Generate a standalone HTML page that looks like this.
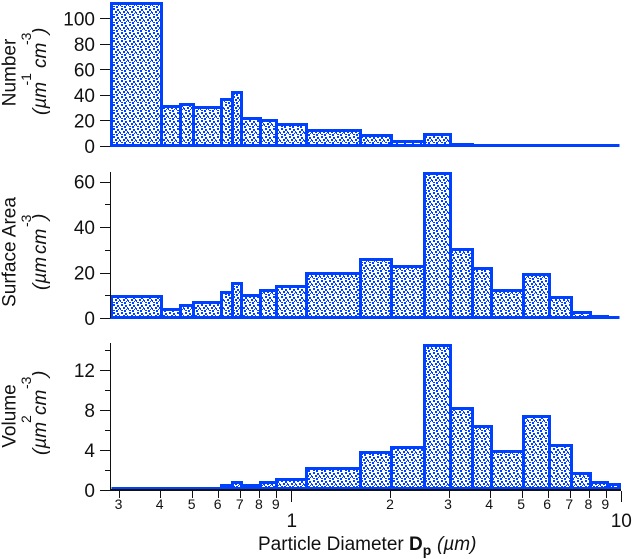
<!DOCTYPE html>
<html lang="en">
<head>
<meta charset="utf-8">
<title>Particle size distribution</title>
<style>
html,body{margin:0;padding:0;background:#fff;width:632px;height:559px;overflow:hidden}
svg{display:block;font-family:"Liberation Sans",sans-serif;fill:#111}
text{font-size:19px}
.i{font-style:italic}
.sup{font-size:14px}
.minor{font-size:14px}
</style>
</head>
<body>
<svg id="chart" xmlns="http://www.w3.org/2000/svg" width="632" height="559" viewBox="0 0 632 559">
<defs>
<pattern id="dots" patternUnits="userSpaceOnUse" width="8" height="8" shape-rendering="crispEdges">
<rect x="1" y="0" width="2" height="2" fill="#0040ff"/>
<rect x="5" y="1" width="2" height="2" fill="#0040ff"/>
<rect x="3" y="3" width="2" height="2" fill="#0040ff"/>
<rect x="7" y="3" width="1" height="2" fill="#0040ff"/>
<rect x="0" y="4" width="1" height="2" fill="#0040ff"/>
<rect x="6" y="5" width="1" height="1" fill="#0040ff"/>
<rect x="4" y="6" width="2" height="2" fill="#0040ff"/>
<rect x="1" y="6" width="2" height="1" fill="#0040ff"/>
</pattern>
</defs>
<g id="marks"></g>

<g>
<text transform="translate(15.5,72.5) rotate(-90)" text-anchor="middle">Number</text>
<text class="i" transform="translate(46,115) rotate(-90)">(µm</text>
<text class="sup" transform="translate(31,85.5) rotate(-90)">-1</text>
<text class="i" transform="translate(46,68) rotate(-90)">cm</text>
<text class="sup" transform="translate(31,45) rotate(-90)">-3</text>
<text class="i" transform="translate(46,34) rotate(-90)">)</text>
</g>
<g>
<text transform="translate(15.5,252) rotate(-90)" text-anchor="middle">Surface Area</text>
<text class="i" transform="translate(46,290) rotate(-90)">(µm</text>
<text class="i" transform="translate(46,254) rotate(-90)">cm</text>
<text class="sup" transform="translate(31,227) rotate(-90)">-3</text>
<text class="i" transform="translate(46,220) rotate(-90)">)</text>
</g>
<g>
<text transform="translate(15.5,416) rotate(-90)" text-anchor="middle">Volume</text>
<text class="i" transform="translate(46,455) rotate(-90)">(µm</text>
<text class="sup" transform="translate(31,423) rotate(-90)">2</text>
<text class="i" transform="translate(46,415) rotate(-90)">cm</text>
<text class="sup" transform="translate(31,389) rotate(-90)">-3</text>
<text class="i" transform="translate(46,377) rotate(-90)">)</text>
</g>
<text x="258" y="550">Particle Diameter <tspan font-weight="bold">D</tspan><tspan font-weight="bold" font-size="14" dy="5">p</tspan><tspan class="i" dy="-5" x="437">(µm)</tspan></text>
</svg>

<script>
const binEdges = [0.2847,0.4043,0.4611,0.5050,0.6140,0.6653,0.7063,0.8047,0.9036,1.112,1.622,2.018,2.543,3.035,3.540,4.043,5.066,6.064,7.070,8.074,9.093,9.910];
const numberValues = [112,31,32.3,29.8,36.2,41.9,21.3,19.7,16.6,11.9,8.2,3.5,9,1.2,0.2,0.1,0.1,0,0,0,0];
const surfaceValues = [9.5,3.6,5.4,6.8,11.2,15.2,9.8,12,13.8,19.6,25.7,22.6,63.5,30.1,21.8,12.1,19.1,9,2.4,0.7,0.3];
const volumeValues = [0.2,0.2,0.2,0.2,0.45,0.75,0.45,0.75,1.05,2.15,3.75,4.25,14.5,8.15,6.35,3.85,7.35,4.45,1.65,0.75,0.55];
const numberTicks = [0,20,40,60,80,100];
const surfaceTicks = [0,20,40,60];
const surfaceMinorTicks = [10,30,50];
const volumeTicks = [0,4,8,12];
const volumeMinorTicks = [2,6,10,14];
const xMinorTicks = [0.3,0.4,0.5,0.6,0.7,0.8,0.9,2,3,4,5,6,7,8,9];
const xMajorTicks = [1,10];

const NS = 'http://www.w3.org/2000/svg';
const root = document.getElementById('marks');
const xScale = d => 291.3 + 329.5 * Math.log10(d);
const yNumber = v => 146 - 1.276 * v;
const ySurface = v => 318 - 2.275 * v;
const yVolume = v => 490 - 10 * v;
const snap = p => Math.round(p - 0.5) + 0.5;

function el(tag, attrs, text) {
  const e = document.createElementNS(NS, tag);
  for (const k in attrs) e.setAttribute(k, attrs[k]);
  if (text !== undefined) e.textContent = text;
  root.appendChild(e);
  return e;
}

function drawBars(values, y, baseline, prefix) {
  values.forEach((v, i) => {
    const l = snap(xScale(binEdges[i]));
    const r = snap(xScale(binEdges[i + 1]));
    const t = Math.min(snap(y(v)), baseline);
    const bar = el('path', {
      d: 'M' + l + ' ' + baseline + 'L' + l + ' ' + t + 'L' + r + ' ' + t + 'L' + r + ' ' + baseline + 'Z',
      fill: 'url(#dots)', stroke: '#0040ff', 'stroke-width': 3, 'stroke-linejoin': 'miter', 'shape-rendering': 'crispEdges'
    });
    
    
  });
}

function line(x1, y1, x2, y2, w) {
  const ln = el('line', {x1: x1, y1: y1, x2: x2, y2: y2, stroke: '#111', 'stroke-width': w, 'shape-rendering': 'crispEdges'});
  
  
  return ln;
}

function yAxis(majors, minors, y, top) {
  if (top !== null) {
    const axis = line(110.5, top, 110.5, y(0), 1);
    
  }
  majors.forEach(v => {
    const py = Math.round(y(v)) + 0.5;
    line(100, py, 110, py, 1);
    const label = el('text', {x: 95, y: y(v) + 7, 'text-anchor': 'end'}, String(v));
    
    
  });
  minors.forEach(v => {
    const py = Math.round(y(v)) + 0.5;
    line(105, py, 110, py, 1);
  });
}

drawBars(numberValues, yNumber, 145.5, 'number');
drawBars(surfaceValues, ySurface, 317.5, 'surface-area');
drawBars(volumeValues, yVolume, 488.5, 'volume');

yAxis(numberTicks, [], yNumber, null);
yAxis(surfaceTicks, surfaceMinorTicks, ySurface, 172);
yAxis(volumeTicks, volumeMinorTicks, yVolume, 343);

const xAxis = line(110, 490, 621, 490, 2);


xMinorTicks.forEach(d => {
  const px = Math.round(xScale(d)) + 0.5;
  line(px, 491, px, 498, 1);
  const label = el('text', {x: xScale(d) - 0.5, y: 509, 'text-anchor': 'middle', 'class': 'minor'}, String(d < 1 ? Math.round(d * 10) : d));
  
  
});
xMajorTicks.forEach(d => {
  const px = Math.round(xScale(d)) + 0.5;
  line(px, 491, px, 502, 1);
  const label = el('text', {x: xScale(d) + 0.5, y: 527, 'text-anchor': 'middle'}, String(d));
  
  
});
</script>
</body>
</html>
